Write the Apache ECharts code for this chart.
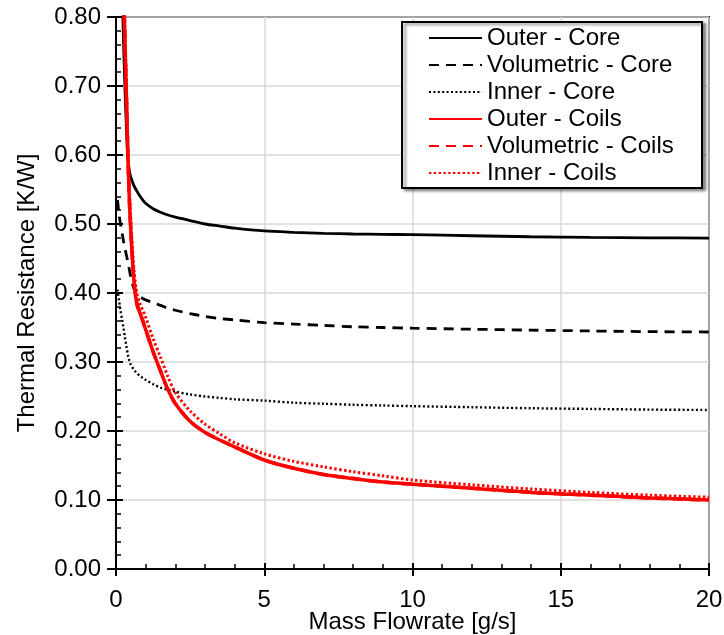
<!DOCTYPE html>
<html>
<head>
<meta charset="utf-8">
<script src="https://cdn.jsdelivr.net/npm/echarts@6/dist/echarts.min.js"></script>
<style>
  html, body { margin: 0; padding: 0; background: #fff; }
  #chart { width: 724px; height: 635px; }
</style>
</head>
<body>
<div id="chart"></div>
<script>
// Mass flowrate samples [g/s]
const flowrate = [0.05, 0.1, 0.15, 0.2, 0.25, 0.3, 0.35, 0.4, 0.45, 0.5, 0.6, 0.7, 0.8, 0.9, 1.0,
  1.25, 1.5, 1.75, 2, 2.5, 3, 3.5, 4, 5, 6, 7, 8, 9, 10, 12, 14, 16, 18, 20];

// Thermal resistance [K/W] per configuration
const outerCore = [1.50, 1.20, 1.00, 0.86, 0.77, 0.70, 0.64, 0.595, 0.577, 0.568, 0.556, 0.548, 0.541, 0.535, 0.530,
  0.522, 0.517, 0.513, 0.510, 0.505, 0.500, 0.497, 0.494, 0.490, 0.488, 0.4865, 0.4855, 0.485, 0.4845, 0.483, 0.4815, 0.4805, 0.480, 0.4795];
const volumetricCore = [0.535, 0.515, 0.500, 0.488, 0.476, 0.465, 0.455, 0.445, 0.434, 0.423, 0.407, 0.399, 0.395, 0.392, 0.390,
  0.386, 0.382, 0.378, 0.375, 0.370, 0.366, 0.363, 0.361, 0.357, 0.355, 0.353, 0.351, 0.350, 0.349, 0.3475, 0.3462, 0.345, 0.344, 0.3435];
const innerCore = [0.405, 0.390, 0.375, 0.363, 0.350, 0.336, 0.323, 0.311, 0.302, 0.296, 0.289, 0.284, 0.280, 0.277, 0.274,
  0.268, 0.263, 0.260, 0.257, 0.253, 0.250, 0.248, 0.246, 0.244, 0.241, 0.2395, 0.238, 0.237, 0.236, 0.2345, 0.233, 0.232, 0.231, 0.2305];
const outerCoils = [3.0, 2.0, 1.4, 1.0, 0.86, 0.765, 0.685, 0.600, 0.535, 0.490, 0.420, 0.385, 0.372, 0.360, 0.347,
  0.315, 0.287, 0.260, 0.240, 0.214, 0.198, 0.187, 0.177, 0.158, 0.146, 0.137, 0.131, 0.126, 0.123, 0.117, 0.111, 0.107, 0.103, 0.100];
const volumetricCoils = [3.0, 2.0, 1.4, 1.0, 0.86, 0.765, 0.685, 0.600, 0.535, 0.490, 0.420, 0.385, 0.372, 0.360, 0.347,
  0.315, 0.287, 0.260, 0.240, 0.214, 0.198, 0.187, 0.177, 0.158, 0.146, 0.137, 0.131, 0.126, 0.123, 0.117, 0.111, 0.107, 0.103, 0.100];
const innerCoils = [3.0, 2.0, 1.45, 1.05, 0.89, 0.79, 0.705, 0.620, 0.555, 0.505, 0.437, 0.400, 0.385, 0.375, 0.365,
  0.334, 0.307, 0.279, 0.256, 0.229, 0.210, 0.196, 0.183, 0.167, 0.156, 0.148, 0.141, 0.135, 0.129, 0.122, 0.116, 0.111, 0.107, 0.104];

const seriesNames = ['Outer - Core', 'Volumetric - Core', 'Inner - Core',
  'Outer - Coils', 'Volumetric - Coils', 'Inner - Coils'];

const FONT = 'Liberation Sans, Arial, sans-serif';
const FS = 24;
const pairs = vals => flowrate.map((x, i) => [x, vals[i]]);

function lineSeries(name, vals, color, type, width, z) {
  return {
    name: name,
    type: 'line',
    data: pairs(vals),
    xAxisIndex: 0,
    yAxisIndex: 0,
    smooth: 0.3,
    symbol: 'none',
    showSymbol: false,
    clip: true,
    z: z,
    lineStyle: { color: color, width: width, type: type, cap: 'butt' },
    itemStyle: { color: color }
  };
}

const chart = echarts.init(document.getElementById('chart'), null, { renderer: 'canvas' });

const xBase = { type: 'value', min: 0, max: 20, interval: 5, gridIndex: 0, position: 'bottom' };
const yBase = { type: 'value', min: 0, max: 0.8, interval: 0.1, gridIndex: 0, position: 'left' };

chart.setOption({
  animation: false,
  backgroundColor: '#fff',
  grid: {
    left: 116, right: 15, top: 17, bottom: 66,
    outerBoundsMode: 'none',
    containLabel: false,
    show: true, borderColor: '#000', borderWidth: 2, backgroundColor: 'transparent'
  },
  // legend frame with its drop shadow
  graphic: [{
    type: 'rect',
    z: 5,
    shape: { x: 402, y: 22, width: 300, height: 166 },
    style: {
      fill: '#fff', stroke: '#000', lineWidth: 2,
      shadowColor: 'rgba(0,0,0,0.45)', shadowBlur: 3, shadowOffsetX: 3, shadowOffsetY: 2
    }
  }],
  legend: {
    data: seriesNames,
    orient: 'vertical',
    left: 428,
    top: 26,
    padding: 0,
    z: 6,
    itemGap: 3,
    itemWidth: 53,
    itemHeight: 14,
    itemStyle: { opacity: 0, borderWidth: 0 },
    textStyle: { fontFamily: FONT, fontSize: FS, color: '#000', lineHeight: 24 }
  },
  xAxis: [
    Object.assign({}, xBase, {
      name: 'Mass Flowrate [g/s]',
      nameLocation: 'middle',
      nameGap: 41,
      nameMoveOverlap: false,
      nameTextStyle: { fontFamily: FONT, fontSize: FS, color: '#000' },
      axisLine: { show: true, onZero: false, lineStyle: { color: '#000', width: 2 } },
      axisTick: { show: true, inside: false, length: 7, lineStyle: { color: '#000', width: 2 } },
      axisLabel: { fontFamily: FONT, fontSize: FS, color: '#000', margin: 19 },
      splitLine: { show: true, lineStyle: { color: '#d9d9d9', width: 1.5 } }
    }),
    Object.assign({}, xBase, {
      axisLine: { show: false, onZero: false },
      axisTick: { show: true, inside: true, length: 6, lineStyle: { color: '#000', width: 2 } },
      minorTick: { show: true, splitNumber: 5, length: 5, lineStyle: { color: '#000', width: 1.5 } },
      axisLabel: { show: false },
      splitLine: { show: false }
    })
  ],
  yAxis: [
    Object.assign({}, yBase, {
      name: 'Thermal Resistance [K/W]',
      nameLocation: 'middle',
      nameGap: 77,
      nameMoveOverlap: false,
      nameTextStyle: { fontFamily: FONT, fontSize: FS, color: '#000' },
      axisLine: { show: true, onZero: false, lineStyle: { color: '#000', width: 2 } },
      axisTick: { show: true, inside: false, length: 9, lineStyle: { color: '#000', width: 2 } },
      axisLabel: {
        fontFamily: FONT, fontSize: FS, color: '#000', margin: 15,
        formatter: v => v.toFixed(2)
      },
      splitLine: { show: true, lineStyle: { color: '#d9d9d9', width: 1.5 } }
    }),
    Object.assign({}, yBase, {
      axisLine: { show: false, onZero: false },
      axisTick: { show: true, inside: true, length: 7, lineStyle: { color: '#000', width: 2 } },
      minorTick: { show: true, splitNumber: 5, length: 5, lineStyle: { color: '#000', width: 1.5 } },
      axisLabel: { show: false },
      splitLine: { show: false }
    })
  ],
  series: [
    lineSeries(seriesNames[0], outerCore, '#000', 'solid', 2.8, 2),
    lineSeries(seriesNames[1], volumetricCore, '#000', [10, 7], 2.8, 2),
    lineSeries(seriesNames[2], innerCore, '#000', [2, 2.4], 2.4, 2),
    lineSeries(seriesNames[3], outerCoils, '#ff0000', 'solid', 3.5, 4),
    lineSeries(seriesNames[4], volumetricCoils, '#ff0000', [10, 7], 3.5, 3),
    lineSeries(seriesNames[5], innerCoils, '#ff0000', [2.4, 2.4], 3, 4)
  ]
});
</script>
</body>
</html>
